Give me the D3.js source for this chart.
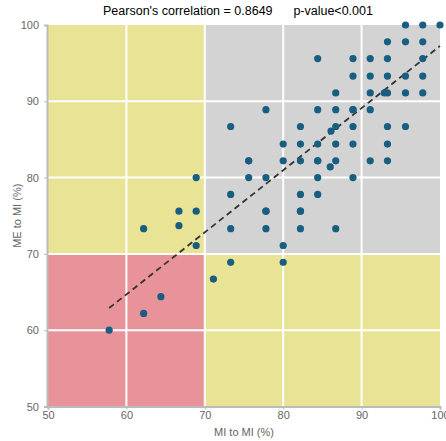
<!DOCTYPE html>
<html lang="en">
<head>
<meta charset="utf-8">
<title>MI vs ME</title>
<script src="https://cdn.jsdelivr.net/npm/d3@7"></script>
<style>
  body { margin: 0; background: #fff; }
  text { font-family: "Liberation Sans", Arial, sans-serif; }
</style>
</head>
<body>
<script>
// MI to MI (%) values
var miValues = [
  57.8, 62.2, 64.4, 62.2, 66.7, 66.7, 68.9, 68.9, 68.9, 71.1,
  73.3, 73.3, 73.3, 73.3, 75.6, 75.6, 75.6,
  77.8, 77.8, 77.8, 77.8, 77.8,
  80.0, 80.0, 80.0, 80.0,
  82.2, 82.2, 82.2, 82.2, 82.2, 82.2, 82.2,
  84.4, 84.4, 84.4, 84.4, 84.4, 84.4, 84.4,
  86.0, 86.1, 86.7, 86.7, 86.7, 86.7, 86.7, 86.7,
  88.9, 88.9, 88.9, 88.9, 88.9, 88.9, 88.9,
  91.1, 91.1, 91.1, 91.1, 91.1,
  92.9, 93.3, 93.3, 93.3, 93.3, 93.3, 93.3, 93.3,
  95.6, 95.6, 95.6, 95.6, 95.6,
  97.8, 97.8, 97.8, 97.8, 97.8,
  100
];
// ME to MI (%) values
var meValues = [
  60.0, 62.2, 64.4, 73.3, 75.6, 73.7, 80.0, 75.6, 71.1, 66.7,
  86.7, 77.8, 73.3, 68.9, 82.2, 80.0, 82.2,
  88.9, 80.0, 75.6, 73.3, 75.6,
  84.4, 82.2, 71.1, 68.9,
  86.7, 84.4, 82.2, 77.8, 75.6, 73.3, 75.6,
  95.6, 88.9, 84.4, 82.2, 80.0, 77.8, 82.2,
  81.4, 86.1, 91.1, 88.9, 86.7, 84.4, 82.2, 73.3,
  95.6, 93.3, 88.9, 86.7, 84.4, 80.0, 88.9,
  95.6, 93.3, 91.1, 88.9, 82.2,
  91.1, 97.8, 95.6, 93.3, 91.1, 86.7, 84.4, 82.2,
  100, 97.8, 93.3, 91.1, 86.7,
  100, 97.8, 95.6, 93.3, 91.1,
  100
];
// fitted line as shown in the chart
var fitSlope = 0.814;
var fitIntercept = 15.85;
var xTicks = [50, 60, 70, 80, 90, 100];
var yTicks = [50, 60, 70, 80, 90, 100];
var cutoff = 70;
var titleText = "Pearson's correlation = 0.8649\u00a0\u00a0\u00a0\u00a0\u00a0\u00a0p-value<0.001";

var width = 446, height = 441;
var margin = {top: 25, right: 6, bottom: 34.5, left: 48};

var x = d3.scaleLinear().domain([50, 100]).range([margin.left, width - margin.right]);
var y = d3.scaleLinear().domain([50, 100]).range([height - margin.bottom, margin.top]);

var svg = d3.select("body").append("svg")
  .attr("width", width)
  .attr("height", height);

// quadrant backgrounds
var zones = [
  {x0: 50, x1: cutoff, y0: cutoff, y1: 100, fill: "#e9e395"},
  {x0: cutoff, x1: 100, y0: cutoff, y1: 100, fill: "#d3d3d3"},
  {x0: 50, x1: cutoff, y0: 50, y1: cutoff, fill: "#e8939a"},
  {x0: cutoff, x1: 100, y0: 50, y1: cutoff, fill: "#e9e395"}
];
svg.selectAll("rect.zone").data(zones).enter().append("rect")
  .attr("class", "zone")
  .attr("x", function(d) { return x(d.x0); })
  .attr("y", function(d) { return y(d.y1); })
  .attr("width", function(d) { return x(d.x1) - x(d.x0); })
  .attr("height", function(d) { return y(d.y0) - y(d.y1); })
  .attr("fill", function(d) { return d.fill; });

// grid
svg.append("g").selectAll("line").data(xTicks.slice(1, -1)).enter().append("line")
  .attr("x1", function(d) { return x(d); }).attr("x2", function(d) { return x(d); })
  .attr("y1", y(50)).attr("y2", y(100))
  .attr("stroke", "#fff").attr("stroke-width", 2);
svg.append("g").selectAll("line").data(yTicks.slice(1, -1)).enter().append("line")
  .attr("y1", function(d) { return y(d); }).attr("y2", function(d) { return y(d); })
  .attr("x1", x(50)).attr("x2", x(100))
  .attr("stroke", "#fff").attr("stroke-width", 2);

// axes
var xAxis = svg.append("g")
  .attr("transform", "translate(0," + y(50) + ")")
  .call(d3.axisBottom(x).tickValues(xTicks).tickSize(3).tickPadding(2));
var yAxis = svg.append("g")
  .attr("transform", "translate(" + (x(50) - 1) + ",0)")
  .call(d3.axisLeft(y).tickValues(yTicks).tickSize(3).tickPadding(5));
[xAxis, yAxis].forEach(function(a) {
  a.select(".domain").attr("stroke", "#bbb").attr("stroke-width", 2);
  a.selectAll(".tick line").attr("stroke", "#bbb");
  a.selectAll(".tick text").attr("fill", "#666").style("font-size", "11px");
});

// regression line over the data range
var xMin = d3.min(miValues), xMax = d3.max(miValues);
svg.append("line")
  .attr("x1", x(xMin)).attr("y1", y(fitIntercept + fitSlope * xMin))
  .attr("x2", x(xMax)).attr("y2", y(fitIntercept + fitSlope * xMax))
  .attr("stroke", "#333").attr("stroke-width", 1.8)
  .attr("stroke-dasharray", "6,4");

// points
svg.append("g").selectAll("circle").data(miValues).enter().append("circle")
  .attr("cx", function(d) { return x(d); })
  .attr("cy", function(d, i) { return y(meValues[i]); })
  .attr("r", 3.6)
  .attr("fill", "#175e80");

// title and labels
svg.append("text")
  .attr("x", 238).attr("y", 15)
  .attr("text-anchor", "middle")
  .style("font-size", "12.5px")
  .attr("fill", "#000")
  .text(titleText);

svg.append("text")
  .attr("x", (x(50) + x(100)) / 2).attr("y", 436)
  .attr("text-anchor", "middle")
  .style("font-size", "11px")
  .attr("fill", "#666")
  .text("MI to MI (%)");

svg.append("text")
  .attr("transform", "translate(21," + ((y(50) + y(100)) / 2) + ") rotate(-90)")
  .attr("text-anchor", "middle")
  .style("font-size", "11px")
  .attr("fill", "#666")
  .text("ME to MI (%)");
</script>
</body>
</html>
